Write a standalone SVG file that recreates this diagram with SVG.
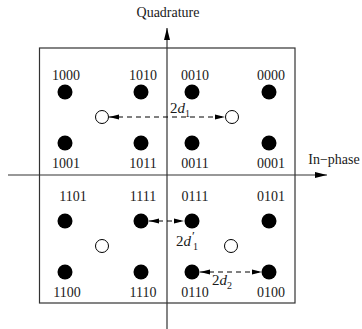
<svg xmlns="http://www.w3.org/2000/svg" width="362" height="329" viewBox="0 0 362 329">
<style>
.t{font-family:"Liberation Serif",serif;font-size:14px;fill:#1a1a1a;text-anchor:middle}
.m{font-family:"Liberation Serif",serif;font-size:15px;fill:#1a1a1a}
.i{font-style:italic}
.s{font-size:10px}
.p{font-size:13px}
.dot{fill:#000}
.open{fill:#fff;stroke:#000;stroke-width:1}
.ax{stroke:#333;stroke-width:1.2;fill:none}
.dash{stroke:#000;stroke-width:1;stroke-dasharray:5 4;fill:none}
</style>
<defs>
<marker id="ah" viewBox="0 0 10 6" refX="10" refY="3" markerWidth="10" markerHeight="6" markerUnits="userSpaceOnUse" orient="auto-start-reverse"><path d="M0,0.5 L10,3 L0,5.5 Z" fill="#000"/></marker>
<marker id="axh" viewBox="0 0 12 6" refX="12" refY="3" markerWidth="12" markerHeight="6" markerUnits="userSpaceOnUse" orient="auto"><path d="M0,0 L12,3 L0,6 Z" fill="#000"/></marker>
</defs>
<g id="frame"><rect x="39.5" y="48" width="255.5" height="255" fill="none" stroke="#333" stroke-width="1.2"/></g>
<g id="axes">
<line class="ax" x1="167" y1="329" x2="167" y2="28" marker-end="url(#axh)"/>
<line class="ax" x1="8" y1="175" x2="327" y2="175" marker-end="url(#axh)"/>
<text class="t" x="168" y="17">Quadrature</text>
<text class="t" x="334" y="164">In−phase</text>
</g>
<g id="points">
<g id="p1000"><circle class="dot" cx="65" cy="92" r="7.5"/><text class="t" x="66" y="80">1000</text></g>
<g id="p1010"><circle class="dot" cx="141" cy="92" r="7.5"/><text class="t" x="143" y="80">1010</text></g>
<g id="p0010"><circle class="dot" cx="192" cy="92" r="7.5"/><text class="t" x="195" y="80">0010</text></g>
<g id="p0000"><circle class="dot" cx="269" cy="92" r="7.5"/><text class="t" x="271" y="80">0000</text></g>
<g id="p1001"><circle class="dot" cx="65" cy="143" r="7.5"/><text class="t" x="66" y="168">1001</text></g>
<g id="p1011"><circle class="dot" cx="141" cy="143" r="7.5"/><text class="t" x="143" y="168">1011</text></g>
<g id="p0011"><circle class="dot" cx="192" cy="143" r="7.5"/><text class="t" x="195" y="168">0011</text></g>
<g id="p0001"><circle class="dot" cx="269" cy="143" r="7.5"/><text class="t" x="271" y="168">0001</text></g>
<g id="p1101"><circle class="dot" cx="65" cy="221" r="7.5"/><text class="t" x="73" y="201">1101</text></g>
<g id="p1111"><circle class="dot" cx="141" cy="221" r="7.5"/><text class="t" x="143" y="201">1111</text></g>
<g id="p0111"><circle class="dot" cx="192" cy="221" r="7.5"/><text class="t" x="195" y="201">0111</text></g>
<g id="p0101"><circle class="dot" cx="269" cy="221" r="7.5"/><text class="t" x="271" y="201">0101</text></g>
<g id="p1100"><circle class="dot" cx="65" cy="272" r="7.5"/><text class="t" x="67" y="297">1100</text></g>
<g id="p1110"><circle class="dot" cx="141" cy="272" r="7.5"/><text class="t" x="143" y="297">1110</text></g>
<g id="p0110"><circle class="dot" cx="192" cy="272" r="7.5"/><text class="t" x="195" y="297">0110</text></g>
<g id="p0100"><circle class="dot" cx="269" cy="272" r="7.5"/><text class="t" x="271" y="297">0100</text></g>
<g id="o1"><circle class="open" cx="102" cy="117" r="6.5"/></g>
<g id="o2"><circle class="open" cx="232" cy="117" r="6.5"/></g>
<g id="o3"><circle class="open" cx="102" cy="246" r="6.5"/></g>
<g id="o4"><circle class="open" cx="231" cy="246" r="6.5"/></g>
</g>
<g id="connectors">
<line class="dash" x1="109" y1="117" x2="225" y2="117" marker-start="url(#ah)" marker-end="url(#ah)"/>
<line class="dash" x1="149" y1="221" x2="184" y2="221" marker-start="url(#ah)" marker-end="url(#ah)"/>
<line class="dash" x1="200" y1="272" x2="262" y2="272" marker-start="url(#ah)" marker-end="url(#ah)"/>
</g>
<g id="labels">
<text class="m" x="170" y="113">2<tspan class="i">d</tspan><tspan class="s" dy="4">1</tspan></text>
<text class="m" x="176" y="246">2<tspan class="i">d</tspan></text>
<text class="m p" x="192" y="240">′</text>
<text class="m s" x="193" y="250">1</text>
<text class="m" x="212" y="285">2<tspan class="i">d</tspan><tspan class="s" dy="4">2</tspan></text>
</g>
</svg>
